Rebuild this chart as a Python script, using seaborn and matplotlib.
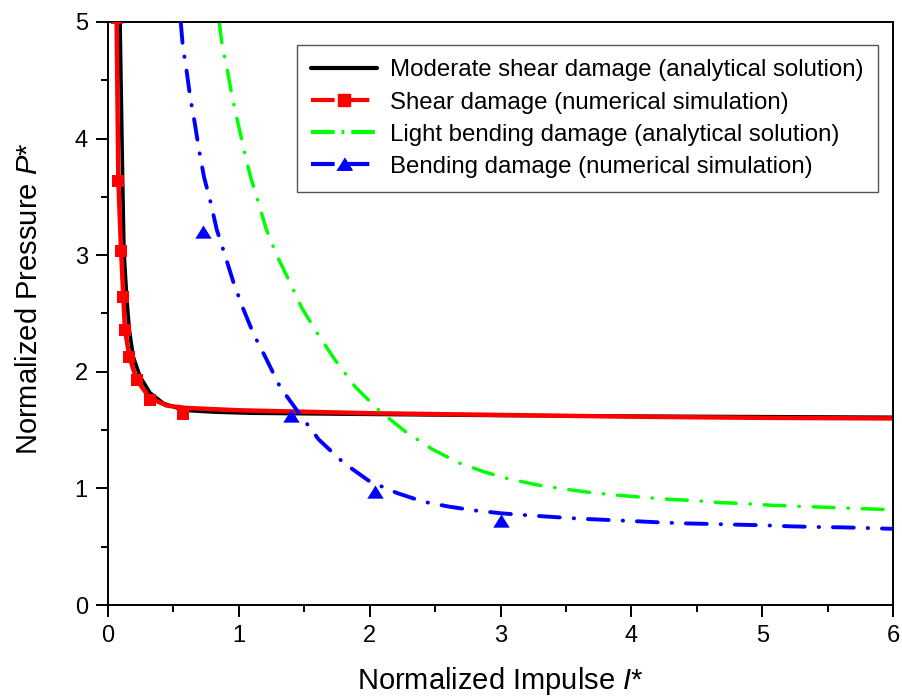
import matplotlib
matplotlib.use("Agg")
import matplotlib.pyplot as plt
from matplotlib.lines import Line2D
from matplotlib.ticker import MultipleLocator
import pandas as pd
import seaborn as sns

# ---- data -------------------------------------------------------------
# Moderate shear damage, analytical solution
shear_ana_I = [0.092, 0.112, 0.122, 0.143, 0.163, 0.193, 0.245, 0.321, 0.423,
               0.576, 0.80, 1.09, 2.0, 3.0, 4.0, 5.0, 6.0]
shear_ana_P = [5.00, 3.64, 3.04, 2.64, 2.36, 2.13, 1.96, 1.82, 1.73,
               1.67, 1.655, 1.645, 1.635, 1.625, 1.62, 1.615, 1.61]

# Shear damage, numerical simulation (fitted line + simulated points)
shear_num_line_I = [0.066, 0.079, 0.100, 0.117, 0.130, 0.163, 0.219, 0.320,
                    0.45, 0.60, 1.0, 2.0, 3.0, 4.0, 5.0, 6.0]
shear_num_line_P = [5.00, 3.64, 3.04, 2.64, 2.36, 2.13, 1.93, 1.775,
                    1.71, 1.69, 1.67, 1.645, 1.63, 1.615, 1.605, 1.60]
shear_num_I = [0.066, 0.079, 0.100, 0.117, 0.130, 0.163, 0.219, 0.320, 0.576]
shear_num_P = [5.03, 3.64, 3.04, 2.64, 2.36, 2.13, 1.93, 1.76, 1.635]

# Light bending damage, analytical solution
bend_ana_I = [0.85, 0.872, 0.915, 0.95, 0.996, 1.04, 1.09, 1.15, 1.21, 1.29,
              1.38, 1.48, 1.60, 1.73, 1.89, 2.08, 2.27, 2.48, 2.68, 2.88,
              3.07, 3.28, 3.48, 3.68, 3.88, 4.08, 4.28, 4.49, 4.68, 4.88,
              5.07, 5.29, 5.49, 5.69, 5.92, 6.0]
bend_ana_P = [5.00, 4.80, 4.57, 4.35, 4.12, 3.90, 3.67, 3.45, 3.22, 3.00,
              2.79, 2.55, 2.33, 2.11, 1.87, 1.66, 1.49, 1.335, 1.22, 1.14,
              1.08, 1.03, 0.995, 0.966, 0.943, 0.924, 0.907, 0.895, 0.878, 0.869,
              0.855, 0.846, 0.838, 0.829, 0.82, 0.815]

# Bending damage, numerical simulation (fitted line + simulated points)
bend_num_line_I = [0.556, 0.571, 0.602, 0.629, 0.665, 0.696, 0.734, 0.785, 0.831,
                   0.894, 0.958, 1.03, 1.11, 1.21, 1.315, 1.45, 1.61, 1.80, 2.00,
                   2.21, 2.41, 2.61, 2.81, 3.01, 3.20, 3.40, 3.61, 3.81, 4.01,
                   4.21, 4.41, 4.61, 4.81, 5.01, 5.21, 5.42, 5.61, 5.81, 6.0]
bend_num_line_P = [5.00, 4.80, 4.57, 4.35, 4.12, 3.90, 3.67, 3.45, 3.22,
                   3.00, 2.77, 2.55, 2.33, 2.11, 1.87, 1.66, 1.42, 1.22, 1.06,
                   0.96, 0.886, 0.843, 0.81, 0.786, 0.77, 0.755, 0.74, 0.73, 0.72,
                   0.709, 0.70, 0.695, 0.689, 0.684, 0.675, 0.669, 0.666, 0.66, 0.653]
bend_num_I = [0.726, 1.40, 2.04, 3.00]
bend_num_P = [3.20, 1.62, 0.97, 0.72]

labels = ["Moderate shear damage (analytical solution)",
          "Shear damage (numerical simulation)",
          "Light bending damage (analytical solution)",
          "Bending damage (numerical simulation)"]
x_ticks = [0, 1, 2, 3, 4, 5, 6]
y_ticks = [0, 1, 2, 3, 4, 5]

# ---- style ------------------------------------------------------------
sns.set_theme(style="white")
plt.rcParams["font.family"] = ["Liberation Sans", "DejaVu Sans"]
plt.rcParams["mathtext.fontset"] = "custom"
plt.rcParams["mathtext.it"] = "Liberation Sans:italic"
plt.rcParams["mathtext.rm"] = "Liberation Sans"
plt.rcParams["lines.scale_dashes"] = False
plt.rcParams["text.color"] = "black"
plt.rcParams["axes.labelcolor"] = "black"
plt.rcParams["xtick.color"] = "black"
plt.rcParams["ytick.color"] = "black"

BLACK, RED, GREEN, BLUE = "#000000", "#ff0000", "#00ff00", "#0000ff"
DASHDOT = (0, (15, 10, 0.3, 10))
TRI = [(-1, -0.75), (1, -0.75), (0, 0.85)]

fig = plt.figure(figsize=(9.03, 7.0), dpi=100)
ax = fig.add_axes([0.1196, 0.1357, 0.8694, 0.8329])

def frame(x, y):
    return pd.DataFrame({"I": x, "P": y})

sns.lineplot(data=frame(shear_ana_I, shear_ana_P), x="I", y="P", ax=ax,
             color=BLACK, lw=2.6, sort=False, estimator=None)
sns.lineplot(data=frame(shear_num_line_I, shear_num_line_P), x="I", y="P", ax=ax,
             color=RED, lw=3.2, sort=False, estimator=None)
sns.scatterplot(data=frame(shear_num_I, shear_num_P), x="I", y="P", ax=ax,
                color=RED, marker="s", s=64, linewidth=0, zorder=3)
sns.lineplot(data=frame(bend_ana_I, bend_ana_P), x="I", y="P", ax=ax,
             color=GREEN, lw=2.5, sort=False, estimator=None,
             linestyle=DASHDOT, dash_capstyle="round")
sns.lineplot(data=frame(bend_num_line_I, bend_num_line_P), x="I", y="P", ax=ax,
             color=BLUE, lw=2.8, sort=False, estimator=None,
             linestyle=DASHDOT, dash_capstyle="round", zorder=4)
sns.scatterplot(data=frame(bend_num_I, bend_num_P), x="I", y="P", ax=ax,
                color=BLUE, marker=TRI, s=140, linewidth=0, zorder=5)

# ---- axes -------------------------------------------------------------
ax.set_xlim(0, 6)
ax.set_ylim(0, 5)
ax.set_xticks(x_ticks)
ax.set_yticks(y_ticks)
ax.xaxis.set_minor_locator(MultipleLocator(0.5))
ax.yaxis.set_minor_locator(MultipleLocator(0.5))
ax.tick_params(which="major", direction="out", length=8.5, width=1.4,
               color=BLACK, labelcolor=BLACK, labelsize=17, pad=6,
               bottom=True, left=True)
ax.tick_params(which="minor", direction="out", length=5, width=1.4,
               color=BLACK, bottom=True, left=True)
for sp in ax.spines.values():
    sp.set_visible(True)
    sp.set_color(BLACK)
    sp.set_linewidth(1.4)

ax.set_xlabel(r"Normalized Impulse $\mathit{I}$*", fontsize=21, color=BLACK)
ax.set_ylabel(r"Normalized Pressure $\mathit{P}$*", fontsize=21, color=BLACK)
ax.xaxis.set_label_coords(0.5, -0.103)
ax.yaxis.set_label_coords(-0.083, 0.525)

# ---- legend -----------------------------------------------------------
handles = [
    Line2D([], [], color=BLACK, lw=3),
    Line2D([], [], color=RED, lw=3, marker="s", markersize=8,
           linestyle=(0, (17, 8)), dash_capstyle="butt"),
    Line2D([], [], color=GREEN, lw=3, linestyle=(0, (17, 5, 2, 5)),
           dash_capstyle="butt"),
    Line2D([], [], color=BLUE, lw=3, marker=TRI, markersize=11,
           linestyle=(0, (17, 8)), dash_capstyle="butt"),
]
leg = ax.legend(handles, labels, loc="upper right",
                bbox_to_anchor=(0.981, 0.9605), borderaxespad=0,
                fontsize=17.3, handlelength=2.75, handletextpad=0.55,
                labelspacing=0.42, borderpad=0.6, fancybox=False,
                framealpha=1, edgecolor="#555555")
leg.get_frame().set_linewidth(1.0)
for t in leg.get_texts():
    t.set_color(BLACK)

fig.savefig("out.png", dpi=100)
